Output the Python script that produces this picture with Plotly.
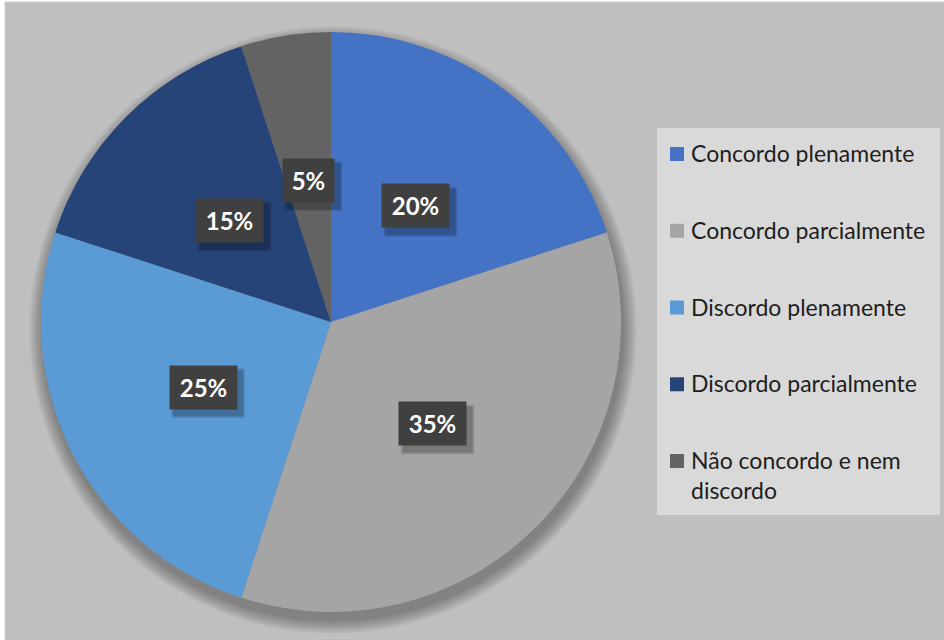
import math
import plotly.graph_objects as go

W, H = 944, 640

categories = ["Concordo plenamente", "Concordo parcialmente", "Discordo plenamente",
              "Discordo parcialmente", "Não concordo e nem discordo"]
legend_labels = ["Concordo plenamente", "Concordo parcialmente", "Discordo plenamente",
                 "Discordo parcialmente", "Não concordo e nem<br>discordo"]
values = [20, 35, 25, 15, 5]
colors = ["#4472C4", "#A5A5A5", "#5B9BD5", "#264478", "#636363"]

FONT = "Lato"

# pie geometry in pixels
cx, cy, R = 331, 322, 290


def px(x):
    return x / W


def py(y):
    return 1 - y / H


fig = go.Figure()
fig.add_trace(go.Pie(
    labels=categories,
    values=values,
    marker=dict(colors=colors, line=dict(width=0)),
    sort=False,
    direction="clockwise",
    rotation=0,
    textinfo="none",
    hoverinfo="label+percent",
    showlegend=False,
    domain=dict(x=[px(cx - R), px(cx + R)], y=[py(cy + R), py(cy - R)]),
))

shapes = []
# chart area background
shapes.append(dict(type="rect", xref="paper", yref="paper", layer="below",
                   x0=px(5), x1=px(W + 2), y0=py(H + 2), y1=py(2),
                   fillcolor="#BFBFBF", line=dict(color="#D0D0D0", width=1)))
# soft shadow under the pie
n_layers = 14
for k in range(n_layers):
    s = 14 - k
    ox, oy = 2, 8
    shapes.append(dict(type="circle", xref="paper", yref="paper", layer="below",
                       x0=px(cx - R - s + ox), x1=px(cx + R + s + ox),
                       y0=py(cy + R + s + oy), y1=py(cy - R - s + oy),
                       fillcolor="black", opacity=0.022, line=dict(width=0)))
# legend box
lx0, lx1, ly0, ly1 = 657, 940, 128, 515
shapes.append(dict(type="rect", xref="paper", yref="paper", layer="below",
                   x0=px(lx0), x1=px(lx1), y0=py(ly1), y1=py(ly0),
                   fillcolor="#D9D9D9", line=dict(width=0)))

annotations = []
# legend entries
first_y, step = 153, 76.75
for i, (lab, col) in enumerate(zip(legend_labels, colors)):
    yc = first_y + i * step
    shapes.append(dict(type="rect", xref="paper", yref="paper",
                       x0=px(670), x1=px(684), y0=py(yc + 8), y1=py(yc - 6),
                       fillcolor=col, line=dict(width=0)))
    annotations.append(dict(xref="paper", yref="paper", x=px(689), y=py(yc - 16),
                            xanchor="left", yanchor="top", align="left",
                            text=lab, showarrow=False,
                            font=dict(family=FONT, size=23, color="#1E1E1E")))

# data labels
total = sum(values)
cum = 0
for v in values:
    mid = (cum + v / 2) / total * 2 * math.pi
    cum += v
    r = 0.495 * R
    x = cx + r * math.sin(mid)
    y = cy - r * math.cos(mid)
    label = "%d%%" % round(v / total * 100)
    bw = 19 + 16 * len(label)
    bh = 43
    # box shadow
    for k, (d, op) in enumerate([(7, 0.08), (5, 0.1), (3, 0.12)]):
        shapes.append(dict(type="rect", xref="paper", yref="paper",
                           x0=px(x - bw / 2 + 5 - d / 2), x1=px(x + bw / 2 + 5 + d / 2),
                           y0=py(y + bh / 2 + 6 + d / 2), y1=py(y - bh / 2 + 6 - d / 2),
                           fillcolor="black", opacity=op, line=dict(width=0)))
    annotations.append(dict(xref="paper", yref="paper", x=px(x), y=py(y),
                            xanchor="center", yanchor="middle", text="<b>%s</b>" % label,
                            showarrow=False,
                            bgcolor="#404040", borderpad=8, width=bw - 16, height=bh - 16,
                            font=dict(family=FONT, size=24, color="white")))

fig.update_layout(
    width=W, height=H,
    margin=dict(l=0, r=0, t=0, b=0),
    paper_bgcolor="white",
    plot_bgcolor="white",
    shapes=shapes,
    annotations=annotations,
    showlegend=False,
)

fig.write_html("out.html")
